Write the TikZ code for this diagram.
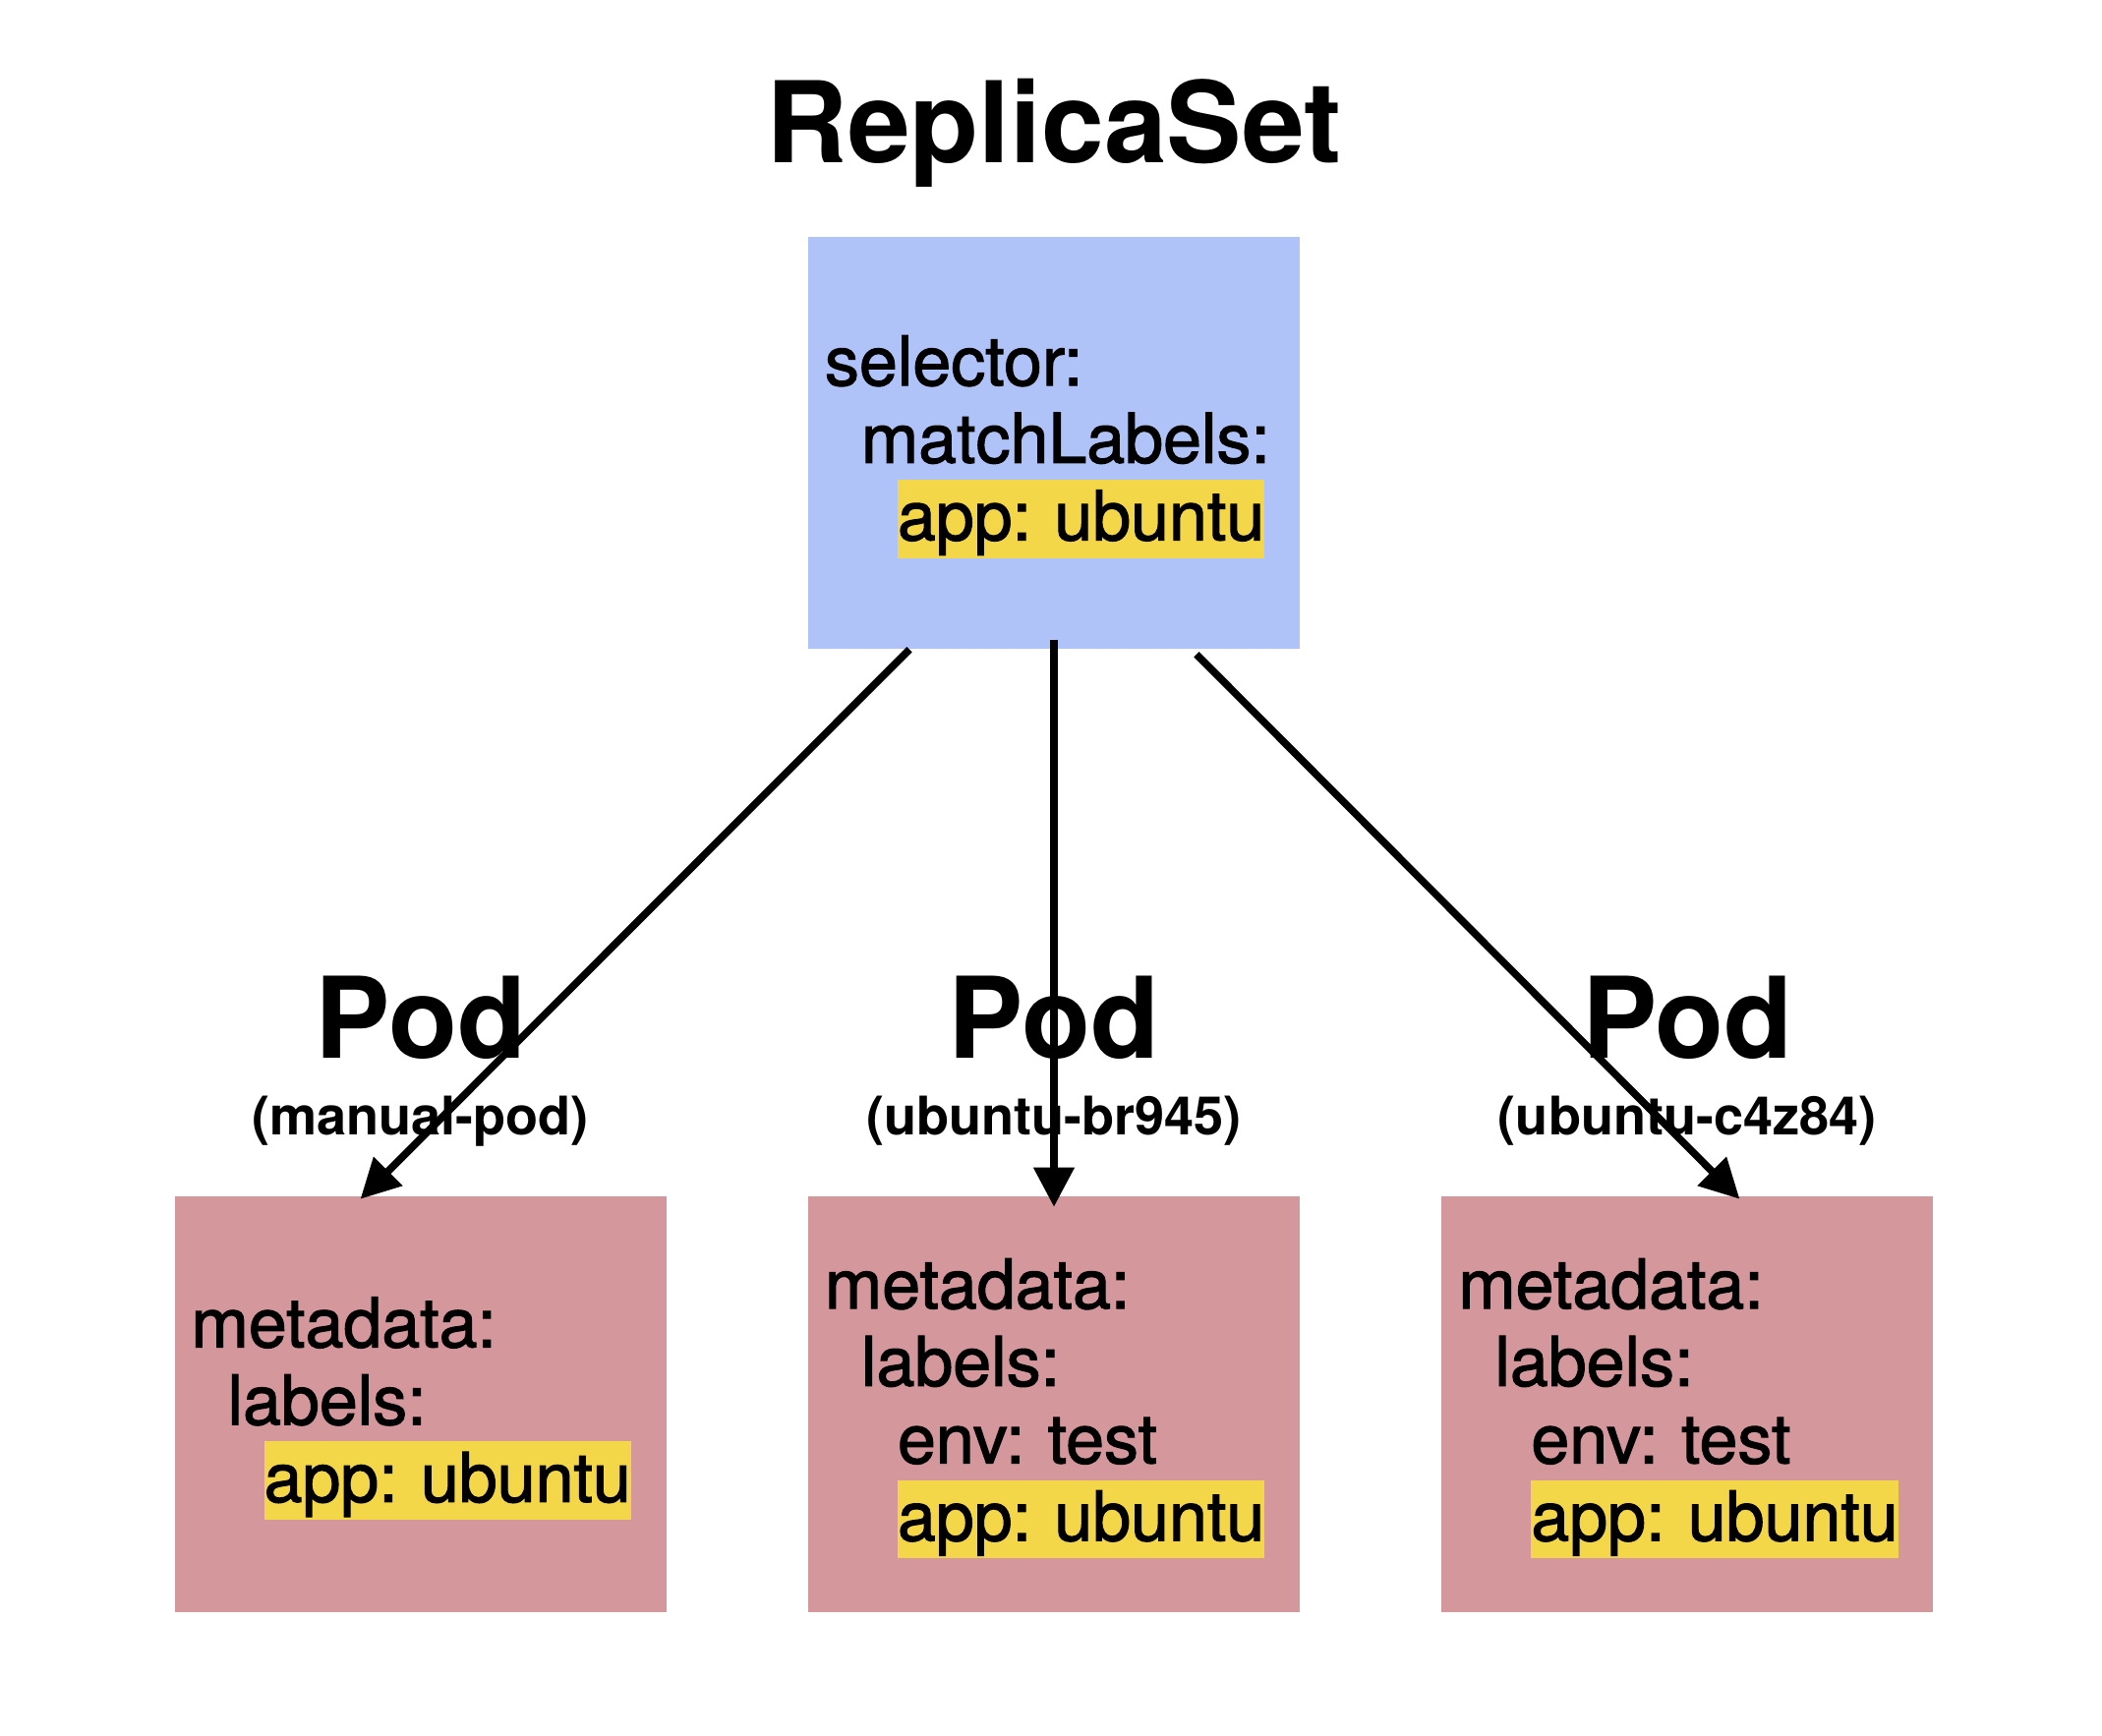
\documentclass[tikz,border=0pt]{standalone}
\usepackage{fontspec}
\setmainfont{TeX Gyre Heros}
\newfontfamily\specfont{TeX Gyre Heros}[FakeBold=1.6]
\usepackage{tikz}
\usetikzlibrary{arrows.meta, positioning}
\usepackage{xcolor}
\definecolor{rsblue}{HTML}{B0C3F8}
\definecolor{podpink}{HTML}{D3979C}
\definecolor{hlyellow}{HTML}{F4D748}
\newcommand{\hlbox}[1]{{\setlength{\fboxsep}{0pt}\colorbox{hlyellow}{\rule[-0.26em]{0pt}{1.14em}#1}}}
\newcommand{\ind}{\hspace*{0.37cm}}
\frenchspacing

\begin{document}
\begin{tikzpicture}[
    spec/.style={rectangle, minimum width=5.0cm, text width=4.66cm, inner xsep=0.17cm, inner ysep=0pt, align=left, font=\specfont\fontsize{19.9}{22.4}\selectfont, execute at begin node={\rule{0pt}{0.84em}}},
    rsbox/.style={spec, minimum height=4.19cm, fill=rsblue},
    podbox/.style={spec, minimum height=4.23cm, fill=podpink},
    bigtitle/.style={anchor=base, font=\fontsize{32.6}{38}\selectfont\bfseries},
    podname/.style={anchor=base, font=\fontsize{15.4}{18}\selectfont\bfseries},
    arrow/.style={-{Triangle[length=0.4cm, width=0.4cm]}, line width=0.075cm},
    node distance=1.43cm
]
    \useasboundingbox (0,0) rectangle (21.38,-17.66);
    \node[rsbox] (rs) at (10.72,-4.505) {selector:\\ \ind matchLabels:\\ \ind\ind\hlbox{app: ubuntu}};
    \node[podbox, below=5.56cm of rs] (pod2) {metadata:\\ \ind labels:\\ \ind\ind env: test\\ \ind\ind\hlbox{app: ubuntu}};
    \node[podbox, left=of pod2] (pod1) {metadata:\\ \ind labels:\\ \ind\ind\hlbox{app: ubuntu}};
    \node[podbox, right=of pod2] (pod3) {metadata:\\ \ind labels:\\ \ind\ind env: test\\ \ind\ind\hlbox{app: ubuntu}};
    \node[bigtitle] (rstitle) at ([yshift=0.75cm]rs.north) {ReplicaSet};
    \node[bigtitle] (podt1) at ([yshift=1.40cm]pod1.north) {Pod};
    \node[bigtitle] (podt2) at ([yshift=1.40cm]pod2.north) {Pod};
    \node[bigtitle] (podt3) at ([yshift=1.40cm]pod3.north) {Pod};
    \node[podname] (podn1) at ([yshift=0.62cm]pod1.north) {(manual-pod)};
    \node[podname] (podn2) at ([yshift=0.62cm]pod2.north) {(ubuntu-br945)};
    \node[podname] (podn3) at ([yshift=0.62cm]pod3.north) {(ubuntu-c4z84)};
    \draw[arrow] ([xshift=-1.47cm]rs.south) -- ([xshift=-0.61cm, yshift=-0.03cm]pod1.north);
    \draw[arrow] ([yshift=0.1cm]rs.south) -- ([yshift=-0.11cm]pod2.north);
    \draw[arrow] ([xshift=1.45cm, yshift=-0.05cm]rs.south) -- ([xshift=0.53cm, yshift=-0.03cm]pod3.north);
\end{tikzpicture}
\end{document}
